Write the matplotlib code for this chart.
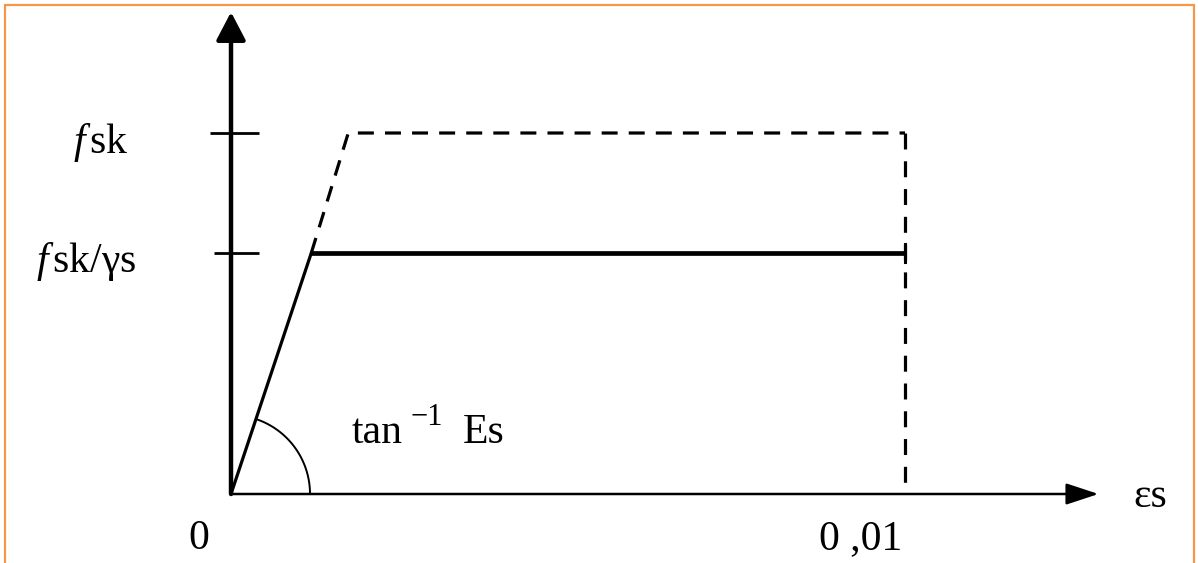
import numpy as np
import matplotlib
matplotlib.use("Agg")
import matplotlib.pyplot as plt
from matplotlib.patches import Rectangle

plt.rcParams['font.family'] = ['Liberation Serif', 'DejaVu Serif']
plt.rcParams['mathtext.fontset'] = 'custom'
plt.rcParams['mathtext.rm'] = 'Liberation Serif'
plt.rcParams['mathtext.it'] = 'Liberation Serif:italic'
plt.rcParams['lines.scale_dashes'] = False

# ---- data (normalised stress, strain) ----
fsk = 1.0
fsk_gs = 0.667
eps_yd = 0.00119      # fsk/γs / Es
eps_yk = 0.00174      # fsk / Es
eps_u = 0.01
x_axis_end = 0.01287
y_axis_end = 1.335
ytick_vals = [fsk, fsk_gs]
ytick_labels = [r"$f\,$sk", r"$f\,$sk/γs"]
xtick_labels = ["0", "0 ,01"]

W, H = 1198, 563
fig = plt.figure(figsize=(W / 100, H / 100), dpi=100)
ax = fig.add_axes([0, 0, 1, 1])
ox, oy = 231, 494
sx, sy = 67400.0, 361.0
ax.set_xlim(-ox / sx, (W - ox) / sx)
ax.set_ylim(-(H - oy) / sy, oy / sy)
ax.axis('off')

# axes arrows
ax.annotate("", xy=(0, y_axis_end), xytext=(0, 0),
            arrowprops=dict(arrowstyle="-|>,head_length=0.86,head_width=0.45",
                            color='black', lw=3.2, shrinkA=0, shrinkB=0,
                            mutation_scale=20))
ax.annotate("", xy=(x_axis_end, 0), xytext=(0, 0),
            arrowprops=dict(arrowstyle="-|>,head_length=1.0,head_width=0.33",
                            color='black', lw=1.8, shrinkA=0, shrinkB=0,
                            mutation_scale=20))

# y ticks
ax.plot([-21 / sx, 28 / sx], [fsk, fsk], color='black', lw=2.0, solid_capstyle='butt')
ax.plot([-17 / sx, 28 / sx], [fsk_gs, fsk_gs], color='black', lw=2.0, solid_capstyle='butt')

# design curve (solid)
ax.plot([0, eps_yd], [0, fsk_gs], color='black', lw=2.3, solid_capstyle='round')
ax.plot([eps_yd, eps_u], [fsk_gs, fsk_gs], color='black', lw=3.4, solid_capstyle='butt')
ax.plot([eps_u, eps_u], [fsk_gs - 9 / sy, fsk_gs + 9 / sy], color='black', lw=2.2)

# characteristic curve (dashed)
ax.plot([eps_yd, eps_yk, eps_u], [fsk_gs, fsk, fsk], color='black', lw=2.3,
        dashes=(11.5, 8.0), solid_capstyle='butt', dash_capstyle='butt')
ax.plot([eps_u, eps_u], [fsk, 0], color='black', lw=2.3,
        dashes=(11.5, 8.5), dash_capstyle='butt')

# angle arc
fig.canvas.draw()
o_disp = ax.transData.transform((0, 0))
p_disp = ax.transData.transform((eps_yd, fsk_gs))
ang = np.arctan2(p_disp[1] - o_disp[1], p_disp[0] - o_disp[0])
r = 79
t = np.linspace(0, ang, 100)
pts = np.column_stack([o_disp[0] + r * np.cos(t), o_disp[1] + r * np.sin(t)])
arc = ax.transData.inverted().transform(pts)
ax.plot(arc[:, 0], arc[:, 1], color='black', lw=1.4)

fs = 30
# labels
ax.text(-130 / sx, fsk - 20 / sy, ytick_labels[0], fontsize=fs, ha='center', va='baseline')
ax.text(-145 / sx, fsk_gs - 19 / sy, ytick_labels[1], fontsize=fs, ha='center', va='baseline')
ax.text(-32 / sx, -55 / sy, xtick_labels[0], fontsize=fs, ha='center', va='baseline')
ax.text(eps_u - 3 / sx, -55 / sy, xtick_labels[1], fontsize=fs, ha='right', va='baseline')
ax.text(121 / sx, 51 / sy, "tan", fontsize=fs, ha='left', va='baseline')
ax.text(179 / sx, 69 / sy, "−1", fontsize=22, ha='left', va='baseline')
ax.text(232 / sx, 51 / sy, "Es", fontsize=fs, ha='left', va='baseline')
ax.text(902 / sx, -13 / sy, "εs", fontsize=fs, ha='left', va='baseline')

# orange frame
fig.patches.append(Rectangle((5 / W, -0.05), (1194 - 5) / W, 1.05 - 5 / H,
                             transform=fig.transFigure, fill=False,
                             edgecolor='#F79646', lw=1.6))

fig.savefig("out.png", dpi=100)
